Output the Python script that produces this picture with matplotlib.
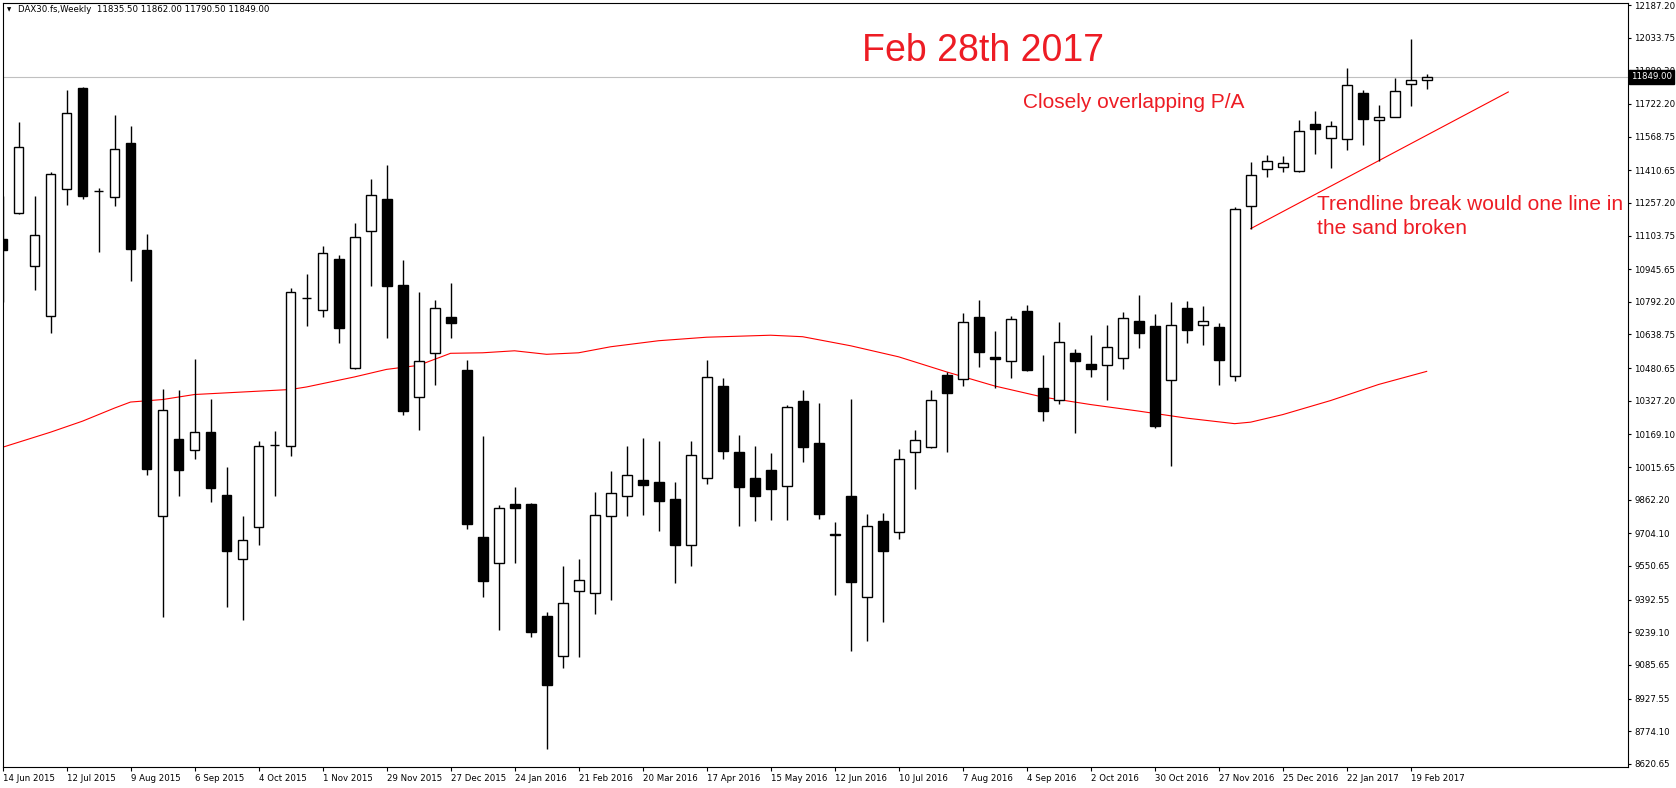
import matplotlib
matplotlib.use('Agg')
import matplotlib.pyplot as plt

W, H = 1676, 788

# weekly DAX30 bars, week of 14 Jun 2015 .. week of 26 Feb 2017
opens = [11088.9, 11211.7, 10958.9, 10727.5, 11320.3, 11797.4, 11313.3, 11284.9, 11540.0, 11034.2,
         9785.0, 10148.8, 10094.4, 10179.5, 9886.6, 9581.9, 9735.4, 10118.1, 10113.3, 10810.1,
         10755.8, 10994.4, 10479.5, 11126.6, 11275.4, 10871.5, 10347.2, 10550.3, 10720.4, 10472.4,
         9685.8, 9563.0, 9841.7, 9841.7, 9315.0, 9128.4, 9435.4, 9423.6, 9785.0, 9879.5,
         9955.1, 9945.6, 9865.3, 9648.0, 9964.5, 10396.8, 10087.4, 9964.5, 10002.3, 9926.7,
         10325.9, 10127.5, 9697.6, 9879.5, 9404.7, 9761.4, 9709.4, 10087.4, 10111.0, 10448.7,
         10429.9, 10720.4, 10533.8, 10514.9, 10748.7, 10387.3, 10330.6, 10550.3, 10500.7, 10496.0,
         10529.1, 10701.5, 10677.9, 10425.1, 10762.9, 10682.6, 10673.1, 10444.0, 11242.4, 11417.2,
         11426.6, 11405.4, 11627.4, 11561.2, 11556.5, 11773.8, 11646.3, 11660.5, 11816.3, 11835.5]
highs = [11289.6, 11636.8, 11289.6, 11400.7, 11788.0, 11802.2, 11325.1, 11669.9, 11617.9, 11110.1,
         10382.6, 10377.9, 10524.3, 10337.7, 10016.5, 9785.0, 10139.3, 10184.2, 10857.4, 10923.5,
         11053.4, 11013.3, 11164.4, 11367.6, 11433.7, 10989.6, 10836.1, 10800.7, 10881.0, 10519.6,
         10160.6, 9839.4, 9922.0, 9846.0, 9333.9, 9551.2, 9584.3, 9898.4, 9997.6, 10113.3,
         10151.1, 10137.0, 9945.6, 10137.0, 10519.6, 10434.6, 10165.3, 10113.3, 10080.3, 10307.0,
         10375.5, 10318.8, 9756.7, 10337.7, 9794.5, 9799.2, 10101.5, 10188.9, 10377.9, 10462.9,
         10739.3, 10800.7, 10654.2, 10725.1, 10777.1, 10543.2, 10696.8, 10571.6, 10635.3, 10682.6,
         10744.0, 10824.3, 10734.5, 10791.2, 10796.0, 10772.3, 10692.0, 11237.7, 11450.2, 11483.3,
         11478.6, 11646.3, 11688.8, 11641.6, 11891.9, 11788.0, 11717.1, 11844.7, 12026.6, 11862.0]
lows = [10793.6, 11204.6, 10845.6, 10647.2, 11247.1, 11277.8, 11025.1, 11244.7, 10888.1, 9976.3,
        9312.6, 9879.5, 10051.9, 9853.5, 9359.9, 9298.5, 9648.0, 9879.5, 10066.1, 10680.2,
        10722.7, 10599.9, 10477.0, 10864.5, 10623.5, 10262.1, 10191.3, 10399.1, 10623.5, 9726.0,
        9407.1, 9251.2, 9563.0, 9218.1, 8691.4, 9069.3, 9123.7, 9326.8, 9392.9, 9785.0,
        9789.7, 9714.2, 9468.5, 9548.8, 9933.8, 10054.3, 9737.8, 9761.4, 9766.1, 9766.1,
        10040.1, 9770.9, 9416.6, 9152.0, 9199.2, 9289.0, 9676.4, 9912.6, 10106.3, 10085.0,
        10394.4, 10484.2, 10385.0, 10432.2, 10467.0, 10233.8, 10311.8, 10174.8, 10439.3, 10333.0,
        10474.7, 10576.3, 10200.7, 10021.2, 10599.9, 10590.5, 10399.1, 10420.4, 11136.1, 11377.0,
        11400.7, 11400.7, 11485.7, 11419.5, 11504.6, 11530.5, 11455.0, 11660.5, 11714.8, 11790.5]
closes = [11036.9, 11518.7, 11105.4, 11393.5, 11681.7, 11287.3, 11315.0, 11509.3, 11039.2, 10004.7,
          10285.8, 10000.0, 10179.5, 9914.9, 9619.7, 9674.0, 10113.3, 10120.4, 10838.5, 10812.5,
          11022.7, 10670.8, 11095.9, 11294.3, 10864.5, 10281.0, 10514.9, 10762.9, 10692.0, 9749.6,
          9478.0, 9822.8, 9825.2, 9241.8, 8989.0, 9376.4, 9482.7, 9789.7, 9893.7, 9978.7,
          9931.5, 9855.9, 9648.0, 10073.2, 10439.3, 10092.1, 9922.0, 9879.5, 9912.6, 10297.6,
          10111.0, 9794.5, 9700.0, 9473.2, 9737.8, 9619.7, 10054.3, 10144.0, 10330.6, 10363.7,
          10696.8, 10557.4, 10524.3, 10710.9, 10470.0, 10281.0, 10602.3, 10514.9, 10477.1, 10581.0,
          10715.7, 10644.8, 10210.2, 10682.6, 10659.0, 10701.5, 10519.6, 11228.2, 11388.8, 11455.0,
          11445.5, 11596.7, 11603.8, 11617.9, 11809.3, 11653.4, 11660.5, 11780.9, 11835.2, 11849.0]

# moving average (bar index, price)
ma_idx = [0, 3, 5, 7, 8, 10, 12, 15, 18, 19, 22, 24, 26, 27, 28, 30, 32, 34, 36, 38, 41, 44,
          48, 50, 52, 53, 56, 59, 62, 65, 68, 71, 74, 77, 78, 80, 83, 86, 89]
ma_val = [10108.6, 10179.5, 10231.4, 10292.9, 10321.2, 10333.0, 10356.6, 10368.4, 10380.2,
          10392.1, 10439.3, 10474.7, 10493.6, 10522.0, 10550.3, 10552.7, 10562.1, 10545.6,
          10552.7, 10581.0, 10609.4, 10625.9, 10635.3, 10628.3, 10599.9, 10585.7, 10533.8,
          10462.9, 10396.8, 10344.8, 10309.4, 10278.7, 10245.6, 10219.6, 10226.7, 10262.1,
          10328.3, 10403.9, 10465.3]

# trendline (bar index, price)
trend_idx = [78, 94.1]
trend_val = [11136.1, 11778.6]

last_price = 11849.00

date_pos = list(range(0, 89, 4))
date_labels = ['14 Jun 2015', '12 Jul 2015', '9 Aug 2015', '6 Sep 2015', '4 Oct 2015',
               '1 Nov 2015', '29 Nov 2015', '27 Dec 2015', '24 Jan 2016', '21 Feb 2016',
               '20 Mar 2016', '17 Apr 2016', '15 May 2016', '12 Jun 2016', '10 Jul 2016',
               '7 Aug 2016', '4 Sep 2016', '2 Oct 2016', '30 Oct 2016', '27 Nov 2016',
               '25 Dec 2016', '22 Jan 2017', '19 Feb 2017']
price_ticks = [12187.20, 12033.75, 11880.30, 11722.20, 11568.75, 11410.65, 11257.20, 11103.75,
               10945.65, 10792.20, 10638.75, 10480.65, 10327.20, 10169.10, 10015.65, 9862.20,
               9704.10, 9550.65, 9392.55, 9239.10, 9085.65, 8927.55, 8774.10, 8620.65]


def fx(px):
    return px / W


def fy(py):
    return 1 - py / H


fig = plt.figure(figsize=(W / 100, H / 100), dpi=100)
ax = fig.add_axes([fx(2.5), fy(767.4), fx(1628.3 - 2.5), (767.4 - 2.5) / H])

red = '#ED1C24'
lab_font = dict(family='DejaVu Sans', size=6.2)

# current price line
ax.axhline(last_price, color='#C0C0C0', lw=0.8, zorder=1)

# moving average and trendline
ax.plot(ma_idx, ma_val, color='red', lw=0.8, zorder=1.5)
ax.plot(trend_idx, trend_val, color='red', lw=0.8, zorder=1.5)

# candles
n = len(opens)
xs = list(range(n))
ax.vlines(xs, lows, highs, color='black', lw=1.0, zorder=2)
for i in xs:
    o, c = opens[i], closes[i]
    fc = 'black' if c < o else 'white'
    ax.bar(i, abs(c - o), bottom=min(o, c), width=0.62, color=fc,
           edgecolor='black', linewidth=1.0, zorder=3)

ax.set_xlim(0, 101.6)
ax.set_ylim(8604.0, 12199.1)

for s in ax.spines.values():
    s.set_linewidth(0.8)

ax.set_xticks(date_pos)
ax.set_xticklabels(date_labels, ha='left', **lab_font)
ax.yaxis.tick_right()
ax.set_yticks(price_ticks)
ax.set_yticklabels(['%.2f' % v for v in price_ticks], **lab_font)
ax.tick_params(axis='x', length=3, width=0.8, pad=1.5)
ax.tick_params(axis='y', length=2.2, width=0.8, pad=2)

# current price box on the price scale
ax.text(1.0015, last_price, '%.2f' % last_price, transform=ax.get_yaxis_transform(),
        color='white', va='center', ha='left', zorder=10, clip_on=False,
        bbox=dict(boxstyle='square,pad=0.25', fc='black', ec='black'), **lab_font)

# header
fig.text(fx(6.5), fy(10), '\u25bc', size=4, va='center', ha='left')
fig.text(fx(18), fy(10), 'DAX30.fs,Weekly  11835.50 11862.00 11790.50 11849.00',
         va='center', ha='left', **lab_font)

# annotations
fig.text(fx(861.7), fy(61.3), 'Feb 28th 2017', color=red, size=27,
         family='Liberation Sans', va='baseline')
fig.text(fx(1023.3), fy(108), 'Closely overlapping P/A', color=red, size=15,
         family='Liberation Sans', va='baseline')
fig.text(fx(1317.3), fy(210), 'Trendline break would one line in', color=red, size=15,
         family='Liberation Sans', va='baseline')
fig.text(fx(1317.3), fy(234), 'the sand broken', color=red, size=15,
         family='Liberation Sans', va='baseline')

fig.savefig('out.png', dpi=100, facecolor='white')
